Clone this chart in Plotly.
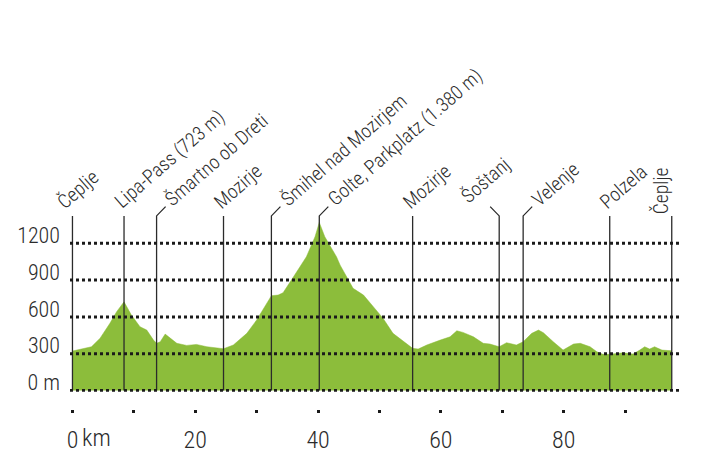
import plotly.graph_objects as go

# ---------------- data ----------------
profile_km = [0.0, 1.2, 3.1, 4.5, 6.1, 7.2, 8.4, 9.6, 11.0, 12.1, 13.2, 13.7, 14.3, 15.1, 15.9,
              17.0, 18.6, 20.2, 21.9, 23.5, 24.6, 26.2, 28.4, 30.0, 31.6, 32.4, 33.5, 34.3,
              36.0, 38.1, 39.5, 40.2, 41.1, 43.0, 43.6, 45.7, 47.4, 49.0, 50.6, 52.2, 53.9,
              55.4, 56.3, 57.7, 59.9, 61.5, 62.6, 63.6, 65.3, 66.9, 68.0, 69.5, 70.7, 72.3,
              73.4, 74.8, 75.9, 76.7, 78.3, 79.9, 81.6, 82.7, 84.3, 85.4, 86.4, 87.5, 89.7,
              91.3, 92.4, 93.2, 94.0, 94.8, 96.0, 97.6]
profile_elev = [322, 336, 357, 427, 548, 643, 723, 615, 520, 493, 411, 385, 398, 460, 425,
                385, 368, 376, 357, 344, 341, 371, 466, 575, 711, 773, 778, 797,
                927, 1090, 1253, 1370, 1253, 1090, 1022, 833, 778, 683, 588, 466, 398,
                344, 338, 371, 411, 438, 487, 474, 438, 385, 379, 357, 390, 371,
                398, 466, 493, 471, 398, 330, 379, 385, 357, 316, 295, 295, 308,
                297, 330, 357, 338, 357, 330, 324]

place_names = ["Čeplje", "Lipa-Pass (723 m)", "Šmartno ob Dreti", "Mozirje",
               "Šmihel nad Mozirjem", "Golte, Parkplatz (1.380 m)", "Mozirje",
               "Šoštanj", "Velenje", "Polzela", "Čeplje"]
place_km = [0.0, 8.4, 13.7, 24.6, 32.4, 40.2, 55.4, 69.5, 73.4, 87.5, 97.6]
place_bend = [0, 0, 1, 0, 1, 1, 0, -1, 1, 0, 0]   # connector bend direction

y_ticks = [0, 300, 600, 900, 1200]
y_ticktext = ["0 m", "300", "600", "900", "1200"]
x_ticks = [0, 10, 20, 30, 40, 50, 60, 70, 80, 90]
x_ticktext = ["0", "", "20", "", "40", "", "60", "", "80", ""]

# ---------------- style ----------------
GREEN = "#8cbd3b"
INK = "#2b2b2b"
FONT = "Roboto Condensed, Liberation Sans Narrow, sans-serif"
LABEL_SIZE = 19.5
LINE_TOP = 1423          # elevation where marker lines end
BEND_DX = 1.47           # km (~9 px)
BEND_DY = 76             # m  (~9 px)
X_STANDOFF = 6

fig = go.Figure()

fig.add_trace(go.Scatter(x=profile_km, y=profile_elev, mode="lines", fill="tozeroy",
                         fillcolor=GREEN, line=dict(color=GREEN, width=0.5),
                         hoverinfo="skip", showlegend=False))

annotations = []
n = len(place_names)
for i, (name, km, bend) in enumerate(zip(place_names, place_km, place_bend)):
    xs = [km, km]
    ys = [0, LINE_TOP]
    if bend != 0:
        xs.append(km + bend * BEND_DX)
        ys.append(LINE_TOP + BEND_DY)
    fig.add_trace(go.Scatter(x=xs, y=ys, mode="lines", line=dict(color=INK, width=1.3),
                             hoverinfo="skip", showlegend=False))
    ex, ey = xs[-1], ys[-1]
    font = dict(family=FONT, size=LABEL_SIZE, color=INK, weight=300)
    if i == n - 1:
        annotations.append(dict(x=ex, y=ey, text=name, textangle=-90, showarrow=False,
                                xanchor="right", yanchor="bottom", xshift=4, yshift=0,
                                font=font))
    else:
        if bend == 0:
            xs_, ys_ = (-23 if i == 0 else -17), 0
        elif bend > 0:
            xs_, ys_ = -8, -7
        else:
            xs_, ys_ = -37, -4
        annotations.append(dict(x=ex, y=ey, text=name, textangle=-41, showarrow=False,
                                xanchor="left", yanchor="bottom", xshift=xs_, yshift=ys_,
                                font=font))

# km unit after the 0 tick label
annotations.append(dict(x=x_ticks[0], y=0, xref="x", yref="paper", text="km",
                        showarrow=False, xanchor="left", yanchor="top", xshift=8,
                        yshift=-(X_STANDOFF + 7),
                        font=dict(family=FONT, size=24, color=INK, weight=300)))

shapes = []
for v in y_ticks:
    shapes.append(dict(type="line", xref="paper", x0=0, x1=1, yref="y", y0=v, y1=v,
                       line=dict(color="#1a1a1a", width=3, dash="dot"), layer="above"))

# page body adds an 8px margin, so the figure is sized to fill the remaining window
fig.update_layout(
    width=696, height=457,
    margin=dict(l=62, r=22, t=196, b=56, autoexpand=False),
    paper_bgcolor="white", plot_bgcolor="white",
    showlegend=False,
    annotations=annotations,
    shapes=shapes,
    xaxis=dict(range=[-0.4, 99.27], domain=[0, 1], anchor="free", position=0,
               automargin=False,
               showgrid=False, zeroline=False, showline=False,
               tickmode="array", tickvals=x_ticks, ticktext=x_ticktext,
               ticks="outside", ticklen=3, tickwidth=3, tickcolor="#1a1a1a",
               ticklabelstandoff=X_STANDOFF,
               tickfont=dict(family=FONT, size=24, color=INK, weight=300)),
    yaxis=dict(range=[-10, 1520], domain=[0.0839, 1], automargin=False,
               showgrid=False, zeroline=False,
               showline=False, tickmode="array", tickvals=y_ticks, ticktext=y_ticktext,
               ticks="", ticklabelshift=-8, ticklabelstandoff=9,
               tickfont=dict(family=FONT, size=22, color=INK, weight=300)),
)

fig.write_html("out.html")
